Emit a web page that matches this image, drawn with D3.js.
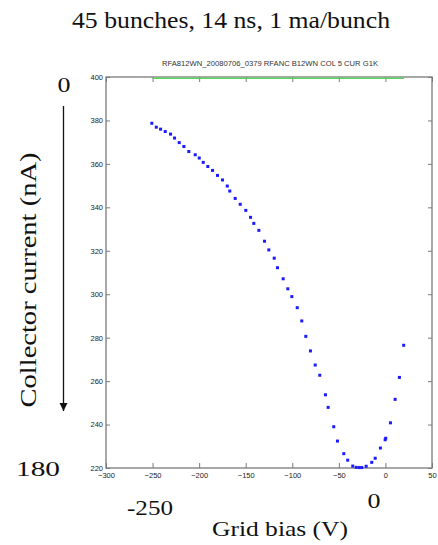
<!DOCTYPE html>
<html><head><meta charset="utf-8">
<script src="https://cdn.jsdelivr.net/npm/d3@7"></script>
<style>body{margin:0;background:#fff}svg{display:block}</style>
</head><body>
<svg id="c" width="438" height="545"></svg>
<script>
const biasV = [-250.8,-246,-241.4,-236.4,-230.7,-226.4,-221.4,-216.4,-211.1,-204.2,-199.9,-195.6,-190.7,-185.6,-180.3,-174.9,-169.8,-167.1,-161.3,-155.9,-149.9,-144.8,-141.3,-135.9,-129.8,-125.2,-119.4,-115.9,-109.8,-104.8,-100.5,-94.7,-89.8,-85.5,-80.5,-75.4,-70.5,-64.4,-61.5,-55.5,-51.5,-44.7,-40.5,-35.1,-31.4,-28.2,-25.4,-20.7,-14.7,-11,-5.4,-0.3,0.3,5.4,10.4,15,19.6];
const current = [378.7,376.9,376.0,374.9,373.7,371.9,369.8,368.0,365.7,364.2,362.7,360.7,358.8,357.0,354.7,352.6,349.8,347.5,344.1,341.4,338.6,335.4,332.6,329.4,324.4,320.4,316.6,312.2,307.1,302.5,298.9,293.8,287.7,280.6,273.9,267.4,262.7,253.7,247.9,239.0,232.4,226.6,223.6,220.9,220.3,220.2,220.2,220.8,222.6,224.5,229.2,233.0,233.7,240.8,251.6,261.7,276.5];
const refX = [-250, 20];
const refY = [399.4, 399.4];
const xTicks = [-300,-250,-200,-150,-100,-50,0,50];
const yTicks = [220,240,260,280,300,320,340,360,380,400];

const svg = d3.select("#c");
const L=106, R=432, T=77, B=468;
const x = d3.scaleLinear().domain([-300,50]).range([L,R]);
const y = d3.scaleLinear().domain([220,400]).range([B,T]);
const axCol = "#7a7a7a";
const tickFont = "'Liberation Sans Narrow','Liberation Sans',Arial,sans-serif";

svg.append("rect").attr("x",L).attr("y",T).attr("width",R-L).attr("height",B-T)
  .attr("fill","none").attr("stroke",axCol).attr("stroke-width",1.3);

const gB = svg.append("g").attr("transform",`translate(0,${B})`)
  .call(d3.axisBottom(x).tickValues(xTicks).tickSizeInner(-5).tickSizeOuter(0).tickPadding(5));
const gT = svg.append("g").attr("transform",`translate(0,${T})`)
  .call(d3.axisTop(x).tickValues(xTicks).tickSizeInner(-5).tickSizeOuter(0).tickFormat(""));
const gL = svg.append("g").attr("transform",`translate(${L},0)`)
  .call(d3.axisLeft(y).tickValues(yTicks).tickSizeInner(-4).tickSizeOuter(0).tickPadding(3));
const gR = svg.append("g").attr("transform",`translate(${R},0)`)
  .call(d3.axisRight(y).tickValues(yTicks).tickSizeInner(-4).tickSizeOuter(0).tickFormat(""));
[gB,gT,gL,gR].forEach(g=>{
  g.select(".domain").remove();
  g.selectAll("line").attr("stroke",axCol).attr("stroke-width",1);
  g.selectAll("text").attr("font-family",tickFont).attr("font-size","7.5px")
   .attr("fill","#222");
});

svg.append("path").datum(refX.map((v,i)=>[v,refY[i]]))
  .attr("d", d3.line().x(d=>x(d[0])).y(d=>y(d[1])))
  .attr("stroke","#5fd35f").attr("stroke-width",1.5).attr("fill","none");

svg.append("g").selectAll("rect").data(biasV.map((v,i)=>[v,current[i]])).join("rect")
  .attr("x",d=>x(d[0])-1.5).attr("y",d=>y(d[1])-1.5).attr("width",3).attr("height",3)
  .attr("fill","#1a1aff");

svg.append("text").attr("x",270).attr("y",66).attr("text-anchor","middle")
  .attr("font-family",tickFont).attr("font-size","7px").attr("fill","#333")
  .attr("textLength",216).attr("lengthAdjust","spacingAndGlyphs")
  .text("RFA812WN_20080706_0379     RFANC B12WN COL 5 CUR G1K");

const serif = "'Liberation Serif','Times New Roman',serif";
function stxt(px,py,size,len,str,tr){
  const t = svg.append("text").attr("text-anchor","middle")
    .attr("font-family",serif).attr("font-size",size+"px").attr("fill","#111")
    .attr("textLength",len).attr("lengthAdjust","spacingAndGlyphs").text(str);
  if(tr) t.attr("transform",tr); else t.attr("x",px).attr("y",py);
  return t;
}
stxt(231,28,23,318,"45 bunches, 14 ns, 1 ma/bunch");
stxt(0,0,23,255,"Collector current (nA)","translate(36,280) rotate(-90)");

svg.append("defs").append("marker").attr("id","ah").attr("viewBox","0 0 10 10")
  .attr("refX",10).attr("refY",5).attr("markerWidth",8).attr("markerHeight",9)
  .attr("markerUnits","userSpaceOnUse").attr("orient","auto")
  .append("path").attr("d","M0,0L10,5L0,10Z").attr("fill","#111");
svg.append("line").attr("x1",63.5).attr("y1",106).attr("x2",63.5).attr("y2",411)
  .attr("stroke","#111").attr("stroke-width",1.3).attr("marker-end","url(#ah)");
stxt(64,92,21,13,"0");
stxt(38,476,21,44,"180");
stxt(150,515,21,46,"-250");
stxt(374,508,21,13,"0");
stxt(280,536,21,136,"Grid bias (V)");
</script>
</body></html>
